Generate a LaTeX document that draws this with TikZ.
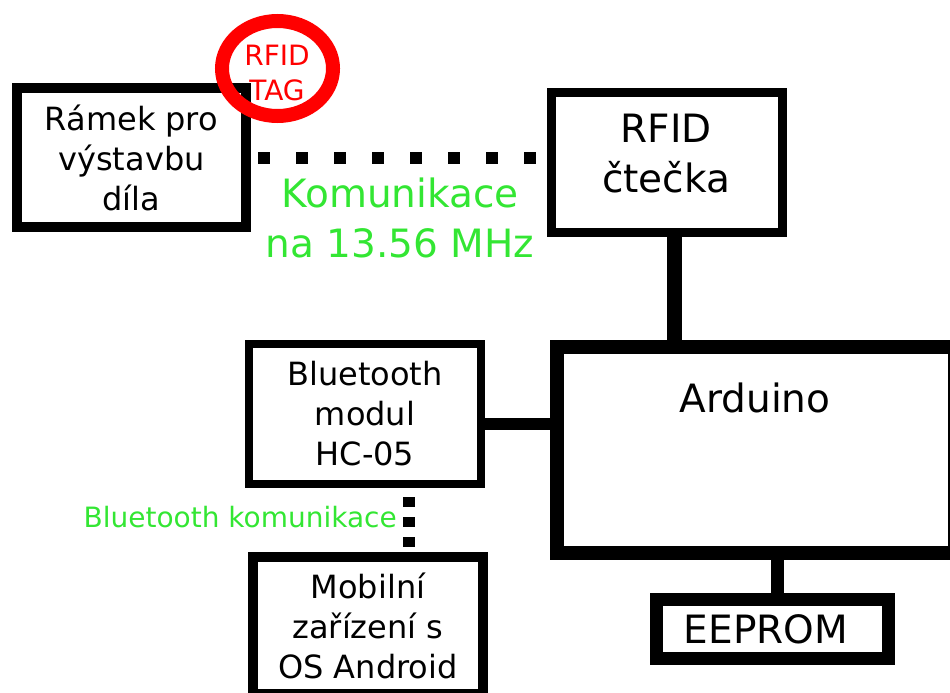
\documentclass[tikz,border=0pt]{standalone}
\usepackage{fontspec}
\setmainfont{DejaVu Sans}
\usepackage{xcolor}
\usepackage{tikz}
\usetikzlibrary{positioning,shapes.geometric}
\definecolor{tagRed}{HTML}{FF0000}
\definecolor{linkGreen}{HTML}{33E633}
\newcommand{\fsz}[2]{\fontsize{#1}{#2}\selectfont}

\begin{document}
\begin{tikzpicture}[
  x=1pt,y=-1pt,
  blk/.style={draw=black,inner sep=0pt,align=center,font=\fsz{32}{40}},
  txt/.style={inner sep=0pt,align=center},
  wire/.style={line width=#1},
  dots/.style 2 args={line width=12pt,dash pattern=on #1 off #2}
]
\useasboundingbox (0,0) rectangle (950,693);
% blocks
\node[blk,line width=10pt,minimum width=229pt,minimum height=139pt] (ram) at (131.5,157.5) {Rámek pro\\výstavbu\\díla};
\node[ellipse,draw=tagRed,line width=14pt,minimum width=111pt,minimum height=95pt,inner sep=0pt] (tag) at (277.5,68.5) {};
\node[txt,text=tagRed,font=\fsz{28}{35}] (tagtxt) at (277,72.5) {RFID\\TAG};
\node[blk,line width=9pt,minimum width=231pt,minimum height=140pt] (rfid) at (667,162.5) {};
\node[txt,font=\fsz{39}{50}] (rfidtxt) at (666,154) {RFID\\čtečka};
\node[blk,line width=14pt,minimum width=398pt,minimum height=206pt] (ard) at (756,450) {};
\node[txt,font=\fsz{39}{48},anchor=base] (ardtxt) at (755,412) {Arduino};
\node[blk,line width=13pt,minimum width=232pt,minimum height=59pt,font=\fsz{39}{48}] (eep) at (772.5,629) {};
\node[txt,font=\fsz{39}{48},anchor=base] (eeptxt) at (766,643) {EEPROM};
\node[blk,line width=8pt,minimum width=232pt,minimum height=140pt] (bt) at (365,414) {Bluetooth\\modul\\HC-05};
\node[blk,line width=10pt,minimum width=230pt,minimum height=137pt] (mob) at (368,625.5) {Mobilní\\zařízení s\\OS Android};
% labels
\node[text=linkGreen,align=center,font=\fsz{39}{50}] (komtxt) at (400,218) {Komunikace\\na 13.56 MHz};
\node[text=linkGreen,font=\fsz{28}{34},anchor=base east,inner sep=0pt] (bttxt) at (397,527) {Bluetooth komunikace};
% links
\coordinate (rfidw) at ([xshift=7pt]rfid.south);
\coordinate (btw) at ([yshift=-10pt]bt.east);
\coordinate (eepw) at ([xshift=4.5pt]eep.north);
\coordinate (btd) at ([xshift=44pt]bt.south);
\draw[wire=15pt] (rfidw) -- (rfidw |- ard.north);
\draw[wire=12pt] (btw) -- (btw -| ard.west);
\draw[wire=13pt] (eepw |- ard.south) -- (eepw);
\draw[dots={12pt}{26pt},shorten <=7pt,shorten >=7pt] (ram.east) -- (ram.east -| rfid.west);
\draw[dots={10pt}{10pt},shorten <=9pt,shorten >=5pt] (btd) -- (btd |- mob.north);
\end{tikzpicture}
\end{document}
